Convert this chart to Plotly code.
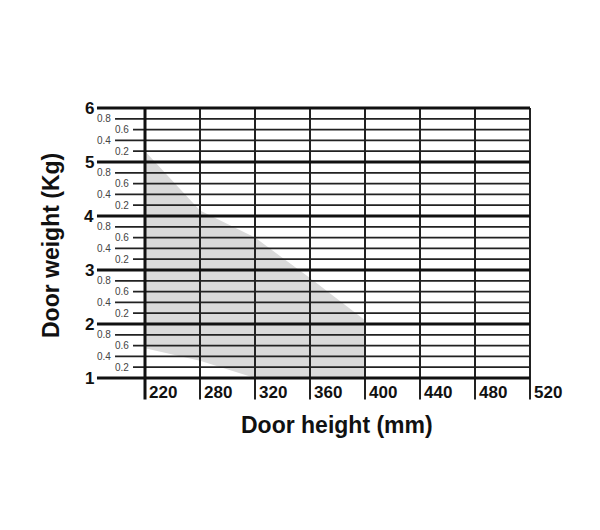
import plotly.graph_objects as go

# door height categories (evenly spaced columns on the chart)
height_labels = ["220", "280", "320", "360", "400", "440", "480", "520"]
col_pos = list(range(len(height_labels)))

# door weight gridlines
major_kg = [1, 2, 3, 4, 5, 6]
minor_kg = [0.2, 0.4, 0.6, 0.8]

# shaded usable range (column index, kg)
upper_x = [0, 1, 2, 3, 4]
upper_y = [5.2, 4.1, 3.6, 2.85, 2.07]
lower_x = [4, 2, 1, 0]
lower_y = [1.0, 1.0, 1.32, 1.55]

FONT = "Liberation Sans"

fig = go.Figure()

# shaded region
fig.add_trace(go.Scatter(
    x=upper_x + lower_x + [upper_x[0]],
    y=upper_y + lower_y + [upper_y[0]],
    fill="toself", fillcolor="#dadada", mode="none", hoverinfo="skip"))


def hlines(ys, x0, x1):
    xs, yy = [], []
    for v in ys:
        xs += [x0, x1, None]
        yy += [v, v, None]
    return xs, yy


# minor horizontal lines, two different left starts
for sub, start in [([0.8, 0.4], -0.545), ([0.6, 0.2], -0.218)]:
    ys = [m + s for m in major_kg[:-1] for s in sub]
    xs, yy = hlines(ys, start, col_pos[-1])
    fig.add_trace(go.Scatter(x=xs, y=yy, mode="lines",
                             line=dict(color="#222", width=1.8), hoverinfo="skip"))
    for v in ys:
        frac = round(v - int(v), 1)
        fig.add_annotation(x=start - 0.03, y=v, text=f"{frac}", showarrow=False,
                           xanchor="right", yanchor="middle",
                           font=dict(family=FONT, size=10, color="#444"))

# vertical lines
xs, yy = [], []
for c in col_pos[1:]:
    xs += [c, c, None]
    yy += [0.6, major_kg[-1], None]
fig.add_trace(go.Scatter(x=xs, y=yy, mode="lines",
                         line=dict(color="#222", width=2), hoverinfo="skip"))
fig.add_trace(go.Scatter(x=[0, 0], y=[0.6, major_kg[-1]], mode="lines",
                         line=dict(color="#111", width=3), hoverinfo="skip"))

# major horizontal lines
xs, yy = hlines(major_kg, -0.873, col_pos[-1])
fig.add_trace(go.Scatter(x=xs, y=yy, mode="lines",
                         line=dict(color="#111", width=3), hoverinfo="skip"))

for v in major_kg:
    fig.add_annotation(x=-0.9, y=v, text=f"<b>{v}</b>", showarrow=False,
                       xanchor="right", yanchor="middle",
                       font=dict(family=FONT, size=17, color="#111"))

for c, lab in zip(col_pos, height_labels):
    fig.add_annotation(x=c + 0.03, y=0.74, text=f"<b>{lab}</b>", showarrow=False,
                       xanchor="left", yanchor="middle",
                       font=dict(family=FONT, size=17, color="#111"))

fig.add_annotation(x=3.49, y=0.13, text="<b>Door height (mm)</b>", showarrow=False,
                   xanchor="center", yanchor="middle",
                   font=dict(family=FONT, size=23, color="#111"))
fig.add_annotation(x=-1.709, y=3.444, text="<b>Door weight (Kg)</b>", showarrow=False,
                   textangle=-90, xanchor="center", yanchor="middle",
                   font=dict(family=FONT, size=23, color="#111"))

# page body has an 8px margin, so the plot starts at page pixel 8
fig.update_layout(
    width=600, height=530,
    margin=dict(l=0, r=0, t=0, b=0),
    plot_bgcolor="white", paper_bgcolor="white",
    showlegend=False,
    xaxis=dict(visible=False, range=[(8 - 145) / 55, (608 - 145) / 55], fixedrange=True),
    yaxis=dict(visible=False, range=[1 - (538 - 378) / 54, 1 + (378 - 8) / 54], fixedrange=True),
)

fig.write_html("out.html")
